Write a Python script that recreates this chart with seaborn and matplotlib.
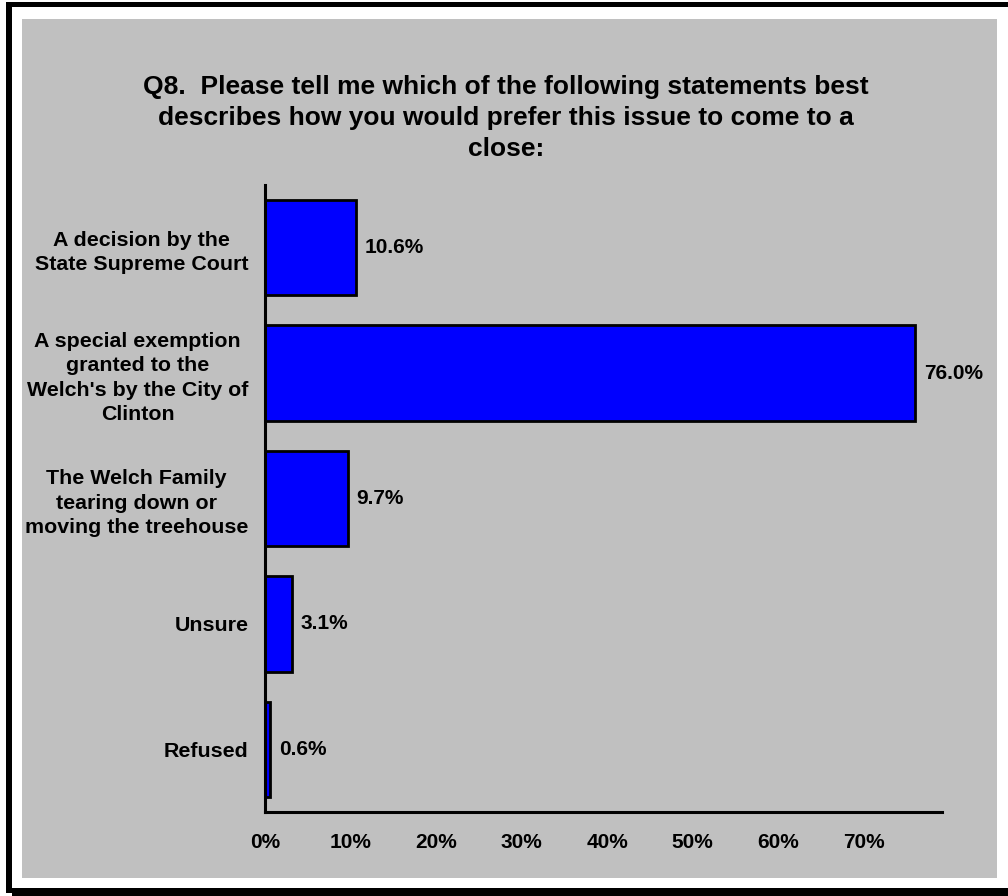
import matplotlib
matplotlib.use("Agg")
import matplotlib.pyplot as plt
import seaborn as sns
import pandas as pd
from matplotlib.patches import Rectangle
from matplotlib.ticker import FuncFormatter

# Chart data
categories = [
    "A decision by the\nState Supreme Court",
    "A special exemption\ngranted to the\nWelch's by the City of\nClinton",
    "The Welch Family\ntearing down or\nmoving the treehouse",
    "Unsure",
    "Refused",
]
values = [10.6, 76.0, 9.7, 3.1, 0.6]
x_ticks = [0, 10, 20, 30, 40, 50, 60, 70]
title = ("Q8.  Please tell me which of the following statements best\n"
         "describes how you would prefer this issue to come to a\n"
         "close:")

df = pd.DataFrame({"answer": categories, "pct": values})

sns.set_style("white")
plt.rcParams['font.family'] = ['Liberation Sans', 'DejaVu Sans']
plt.rcParams['font.weight'] = 'bold'
for key in ['text.color', 'axes.labelcolor', 'xtick.color', 'ytick.color']:
    plt.rcParams[key] = 'black'

W, H = 1008, 896
fig = plt.figure(figsize=(W / 100, H / 100), dpi=100, facecolor='white')


def box(x0, y0, x1, y1, color):
    # rectangle in pixel coordinates measured from the top-left corner
    return Rectangle((x0 / W, 1 - y1 / H), (x1 - x0) / W, (y1 - y0) / H,
                     transform=fig.transFigure, facecolor=color,
                     edgecolor='none', zorder=-10)


# frame and grey chart area
fig.patches.extend([
    box(22, 19, 997, 878, '#C0C0C0'),
    box(6, 2, 1008, 7, 'black'),
    box(6, 2, 12, 893, 'black'),
    box(12, 888, 1008, 896, 'black'),
])

ax = fig.add_axes([265 / W, 1 - 812 / H, (941.6 - 265) / W, (812 - 185) / H])
ax.set_facecolor('none')

sns.barplot(data=df, x='pct', y='answer', orient='h', color='#0000FF',
            saturation=1, edgecolor='black', linewidth=2, width=0.76, ax=ax)

ax.set_xlim(0, 79.1)
ax.set_ylim(4.5, -0.5)
ax.set_xlabel('')
ax.set_ylabel('')

ax.set_xticks(x_ticks)
ax.xaxis.set_major_formatter(FuncFormatter(lambda v, p: f"{v:.0f}%"))
ax.tick_params(axis='x', length=6, width=2, direction='out', labelsize=15,
               pad=9, colors='black')

# boundary ticks on the category axis, labels at the centres
ax.set_yticks([i - 0.5 for i in range(6)], labels=[''] * 6)
ax.set_yticks(range(len(categories)), labels=categories, minor=True)
ax.tick_params(axis='y', which='major', length=8, width=2, direction='out')
ax.tick_params(axis='y', which='minor', length=0, pad=12, labelsize=15.4)
for t in ax.get_yticklabels(minor=True):
    t.set_multialignment('center')
    t.set_fontweight('bold')
    t.set_linespacing(1.36)
    t.set_color('black')

sns.despine(ax=ax)
for side in ['left', 'bottom']:
    ax.spines[side].set_linewidth(2.2)
    ax.spines[side].set_color('black')

for i, v in enumerate(values):
    ax.text(v + 1.0, i, f"{v:.1f}%", va='center', ha='left',
            fontsize=15, fontweight='bold', color='black')

fig.text(506 / W, 1 - 118 / H, title, ha='center', va='center', fontsize=19,
         fontweight='bold', linespacing=1.36, color='black')

fig.savefig('out.png', dpi=100)
